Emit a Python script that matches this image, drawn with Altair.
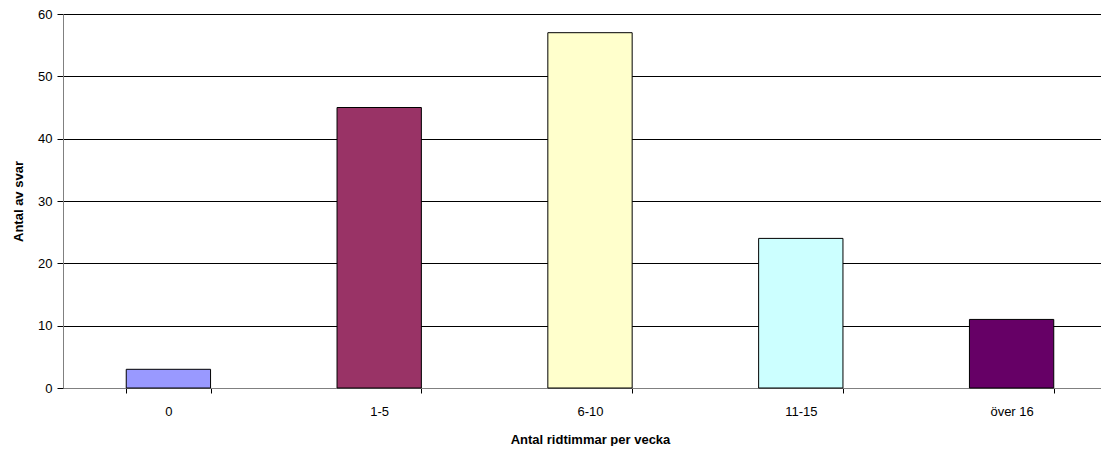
import altair as alt
import pandas as pd

categories = ["0", "1-5", "6-10", "11-15", "över 16"]
values = [3, 45, 57, 24, 11]
colors = ["#9999FF", "#993366", "#FFFFCC", "#CCFFFF", "#660066"]

df = pd.DataFrame({"kategori": categories, "antal": values})

FONT = "Liberation Sans"

chart = alt.Chart(df).mark_bar(stroke="#000000", strokeWidth=1).encode(
    x=alt.X(
        "kategori:N",
        sort=categories,
        scale=alt.Scale(paddingInner=0.6, paddingOuter=0.3),
        axis=alt.Axis(
            title="Antal ridtimmar per vecka",
            labelAngle=0,
            tickBand="extent",
            tickSize=5,
            labelPadding=12,
            titlePadding=15,
            domainColor="#808080",
            tickColor="#000000",
            labelFontSize=13,
            titleFontSize=13,
            labelFont=FONT,
            titleFont=FONT,
            labelColor="#000000",
            titleColor="#000000",
            titleFontWeight="bold",
            grid=False,
        ),
    ),
    y=alt.Y(
        "antal:Q",
        scale=alt.Scale(domain=[0, 60]),
        axis=alt.Axis(
            title="Antal av svar",
            values=[0, 10, 20, 30, 40, 50, 60],
            tickSize=6,
            labelPadding=5,
            titlePadding=12,
            domainColor="#808080",
            tickColor="#000000",
            gridColor="#000000",
            gridWidth=1,
            labelFontSize=13,
            titleFontSize=13,
            labelFont=FONT,
            titleFont=FONT,
            labelColor="#000000",
            titleColor="#000000",
            titleFontWeight="bold",
        ),
    ),
    color=alt.Color(
        "kategori:N",
        scale=alt.Scale(domain=categories, range=colors),
        legend=None,
    ),
).properties(
    width=1054,
    height=374,
    padding={"left": 4, "top": 0, "right": -16, "bottom": 0},
).configure_view(
    stroke=None
).configure(
    background="#FFFFFF"
)

chart.save("out.html", embed_options={"renderer": "svg", "actions": False})
